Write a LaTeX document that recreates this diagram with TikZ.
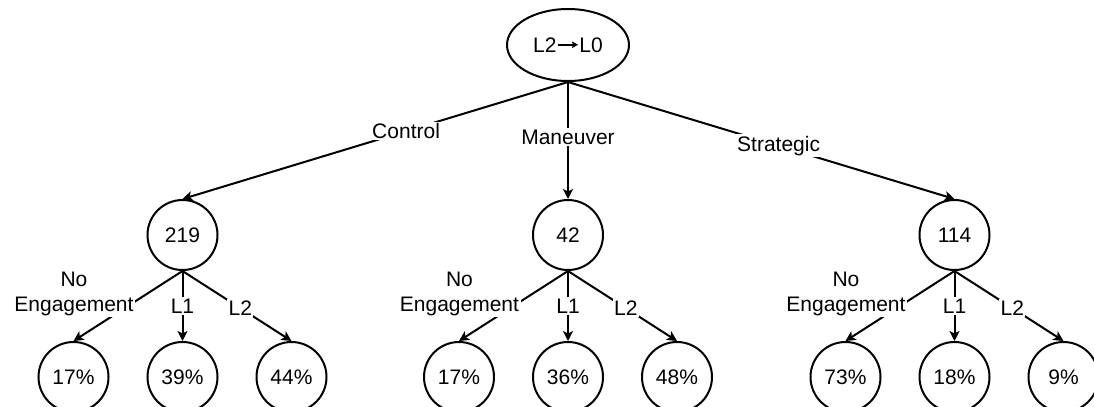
\documentclass[tikz,border=0pt]{standalone}
\usepackage{fontspec}
\setmainfont{Liberation Sans}
\usetikzlibrary{shapes.geometric,arrows.meta}
\begin{document}
\begin{tikzpicture}[x=1bp,y=-1bp,
  every node/.style={font=\fontsize{21bp}{25bp}\selectfont},
  rootnode/.style={draw,line width=2bp,ellipse,minimum width=122bp,minimum height=72bp,inner sep=0pt},
  cnode/.style={draw,line width=2bp,circle,minimum size=70bp,inner sep=0pt},
  conn/.style={line width=2bp,-{Stealth[length=10bp,width=10bp,inset=2.5bp]}},
  elab/.style={fill=white,inner sep=1.5bp,align=center}]
\useasboundingbox (0,0) rectangle (1094,406);
\node[rootnode] (root) at (568,45) {L2\kern0.5bp\tikz[baseline=0pt,x=1bp,y=1bp]{\draw[line width=1.8bp,-{Stealth[length=6bp,width=6.5bp,inset=1bp]}] (0,7.5) -- (20,7.5);}\kern0.5bp L0};
\node[cnode] (c1) at (182.5,235) {219};
\node[cnode] (c2) at (568,235) {42};
\node[cnode] (c3) at (954.5,235) {114};
\node[cnode] (b11) at (73.5,377) {17\%};
\node[cnode] (b12) at (182.5,377) {39\%};
\node[cnode] (b13) at (291.5,377) {44\%};
\node[cnode] (b21) at (459,377) {17\%};
\node[cnode] (b22) at (568,377) {36\%};
\node[cnode] (b23) at (677,377) {48\%};
\node[cnode] (b31) at (845.5,377) {73\%};
\node[cnode] (b32) at (954.5,377) {18\%};
\node[cnode] (b33) at (1063.5,377) {9\%};
\draw[conn] (root.south) -- node[elab,pos=0.42] (lc) {Control} (c1.north);
\draw[conn] (root.south) -- node[elab,pos=0.47] (lm) {Maneuver} (c2.north);
\draw[conn] (root.south) -- node[elab,pos=0.545] (ls) {Strategic} (c3.north);
\foreach \c/\i in {c1/1,c2/2,c3/3}{
  \draw[conn] (\c.south) -- node[elab,pos=0.5,anchor=east,xshift=8bp,yshift=12.5bp] (ln\i) {No\\Engagement} (b\i1.north);
  \draw[conn] (\c.south) -- node[elab,pos=0.5] (la\i) {L1} (b\i2.north);
  \draw[conn] (\c.south) -- node[elab,pos=0.53] (lb\i) {L2} (b\i3.north);
}
\end{tikzpicture}
\end{document}
